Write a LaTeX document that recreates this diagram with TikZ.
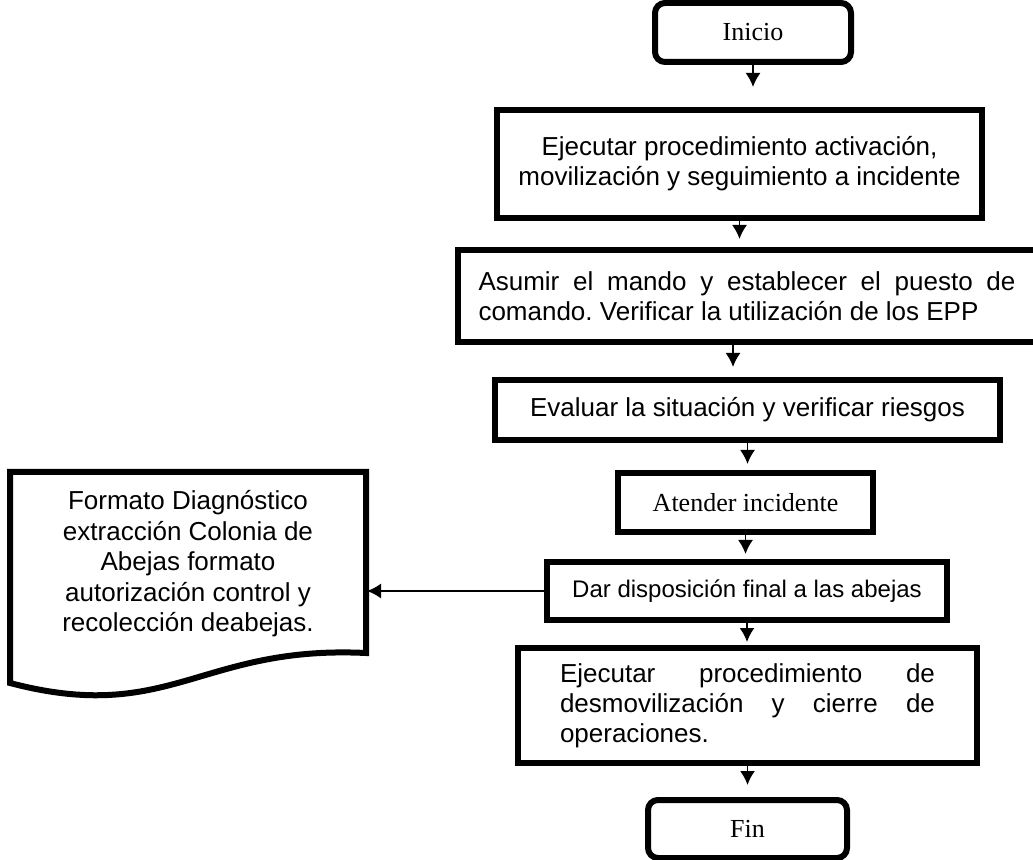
\documentclass[tikz,border=0pt]{standalone}
\usepackage{fontspec}
\setmainfont{Liberation Serif}
\setsansfont{Liberation Sans}
\usetikzlibrary{arrows.meta}
\frenchspacing

\tikzstyle{inicial}= [rectangle,draw,black,line width=3pt,rounded corners=5pt,inner sep=0pt,font=\rmfamily\fontsize{13}{15}\selectfont]
\tikzstyle{paso}= [rectangle,draw,black,line width=3pt,inner sep=0pt,font=\sffamily\fontsize{13}{15}\selectfont]
\tikzstyle{pasot}= [rectangle,draw,black,line width=3pt,inner sep=0pt,font=\rmfamily\fontsize{13}{15}\selectfont]
\tikzstyle{documento}= [draw,black,line width=3pt]
\tikzstyle{flecha}= [black,line width=0.9pt,-{Latex[length=7pt,width=7.5pt]}]

\begin{document}
\begin{tikzpicture}[x=0.5pt,y=-0.5pt]
		\useasboundingbox (0,0) rectangle (1033,860);

		\node (inicio) at (753,32.5) [inicial,minimum width=98pt,minimum height=29.5pt] {Inicio};
		\node (activ) at (739.5,164) [paso,minimum width=242.5pt,minimum height=54pt,align=center] {Ejecutar procedimiento activación,\\movilización y seguimiento a incidente};
		\node (mando) at (747,296) [paso,minimum height=46pt,text width=268.5pt,inner xsep=10.25pt,align=justify] {Asumir el mando y establecer el puesto de\linebreak comando. Verificar la utilización de los EPP};
		\node (evalua) at (747.5,410) [paso,minimum width=252.5pt,minimum height=30pt] {Evaluar la situación y verificar riesgos};
		\node (atender) at (745.5,502.5) [pasot,minimum width=127.5pt,minimum height=29.5pt] {Atender incidente};
		\node (dispo) at (747,591) [paso,minimum width=200pt,minimum height=29pt,font=\sffamily\fontsize{12}{14}\selectfont] {Dar disposición final a las abejas};
		\node (desmov) at (747.5,705.5) [paso,minimum width=229.5pt,minimum height=57.5pt,text width=187.5pt,align=justify] {\rightskip=10pt Ejecutar procedimiento de\linebreak desmovilización y cierre de\linebreak operaciones.};
		\node (fin) at (747.5,829) [inicial,minimum width=99.5pt,minimum height=29pt] {Fin};

		% documento
		\draw[documento] (10,472) -- (366,472) -- (366,653) .. controls (200,645) and (170,725) .. (10,683) -- cycle;
		\node (doc) at (188,564) [align=center,font=\sffamily\fontsize{13}{15.25}\selectfont] {Formato Diagnóstico\\extracción Colonia de\\Abejas formato\\autorización control y\\recolección deabejas.};
		\coordinate (docder) at (367,591);

		\path (inicio.south) edge[flecha,shorten >=10pt] (inicio.south |- activ.north);
		\path (activ.south) edge[flecha,shorten >=4pt] (activ.south |- mando.north);
		\path ([xshift=-7pt]mando.south) edge[flecha,shorten >=5pt] ([xshift=-7pt]mando.south |- evalua.north);
		\path (evalua.south) edge[flecha,shorten >=3pt] (evalua.south |- atender.north);
		\path (atender.south) edge[flecha,shorten >=2.5pt] (atender.south |- dispo.north);
		\path (dispo.south) edge[flecha,shorten >=1.5pt] (dispo.south |- desmov.north);
		\path (desmov.south) edge[flecha,shorten >=6pt] (desmov.south |- fin.north);
		\path (dispo.west) edge[flecha] (docder);
\end{tikzpicture}
\end{document}
